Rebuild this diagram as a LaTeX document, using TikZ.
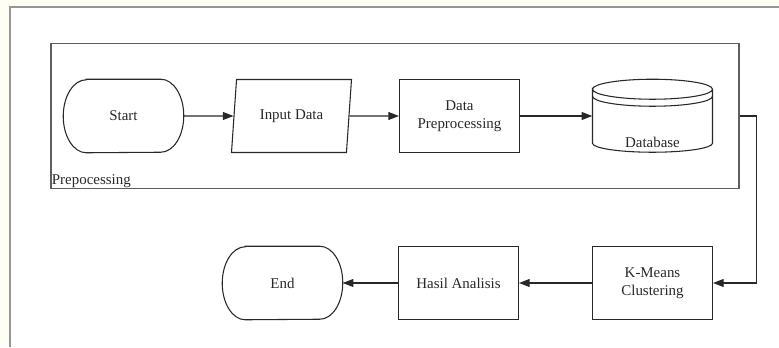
\documentclass[tikz,border=0pt]{standalone}
\usepackage{fontspec}
\setmainfont{Liberation Serif}
\usepackage{tikz}
\usetikzlibrary{shapes.geometric, arrows.meta, positioning, calc}
\definecolor{pagecream}{RGB}{254,254,244}
\definecolor{framegray}{RGB}{150,150,150}
\definecolor{boxgray}{RGB}{95,95,95}
\definecolor{inkgray}{RGB}{40,40,40}

\begin{document}
\begin{tikzpicture}[
    x=0.75pt, y=0.75pt,
    every node/.style={font=\fontsize{11.2}{13.5}\selectfont, text=inkgray},
    term/.style={
        rectangle, inner sep=0pt,
        minimum width=90pt, minimum height=54.75pt
    },
    io/.style={
        trapezium, trapezium left angle=77, trapezium right angle=103,
        trapezium stretches body,
        minimum width=90pt, minimum height=54.75pt,
        draw=inkgray, line width=0.8pt
    },
    process/.style={
        rectangle, align=center,
        minimum width=90pt, minimum height=54.75pt,
        draw=inkgray, line width=0.8pt
    },
    store/.style={
        rectangle, inner sep=0pt,
        minimum width=90pt, minimum height=54.75pt
    },
    group/.style={
        rectangle, draw=boxgray, line width=1pt,
        minimum width=516pt, minimum height=108.75pt
    },
    outline/.style={draw=inkgray, line width=0.8pt},
    arrow/.style={-{Triangle[length=8pt,width=6pt]}, line width=0.8pt, draw=inkgray}
]
\useasboundingbox (0,0) rectangle (779,347);

% --- page and outer frame ---
\fill[pagecream] (0,0) rectangle (779,347);
\fill[white] (10,0) rectangle (779,340);
\draw[framegray, line width=1.5pt] (10,0) -- (10,340) -- (779,340);

% --- preprocessing group ---
\node[group] (group) at (395,231) {};
\node[anchor=south west, inner sep=1pt] (grouplabel) at (group.south west) {Prepocessing};

% --- top row ---
\node[term]    (start) at (123.5,231) {Start};
\node[io]      (input) at (291.5,231) {Input Data};
\node[process] (prep)  at (459.5,231) {Data\\Preprocessing};
\node[store]   (db)    at (652.5,231) {};
\draw[outline] ($(db.north)+(-60,-10)$)
    arc[start angle=180, end angle=-180, x radius=45pt, y radius=7.5pt]
    -- ++(0,-54)
    arc[start angle=180, end angle=360, x radius=45pt, y radius=6.75pt]
    -- ++(0,54);
\draw[outline] ($(db.north)+(-60,-17)$)
    arc[start angle=180, end angle=360, x radius=45pt, y radius=7.5pt];
\node (dblabel) at ($(db.south)+(0,10)$) {Database};

% --- bottom row ---
\node[term]    (finish) at (282.5,64) {End};
\node[process] (hasil)  at (458.5,64) {Hasil Analisis};
\node[process] (kmeans) at (652.5,64) {K-Means\\Clustering};

% terminal outlines with elliptic ends
\foreach \t in {start,finish}
    \draw[outline] ($(\t.north west)+(23,0)$) -- ($(\t.north east)+(-23,0)$)
        arc[start angle=90, end angle=-90, x radius=17.25pt, y radius=27.375pt]
        -- ($(\t.south west)+(23,0)$)
        arc[start angle=270, end angle=90, x radius=17.25pt, y radius=27.375pt]
        -- cycle;

% --- arrows ---
\draw[arrow] (start) -- (input);
\draw[arrow] (input) -- (prep);
\draw[arrow] (prep) -- (db);
\draw[arrow] (group.east) -- ++(17,0) |- (kmeans.east);
\draw[arrow] (kmeans) -- (hasil);
\draw[arrow] (hasil) -- (finish);

\end{tikzpicture}
\end{document}
